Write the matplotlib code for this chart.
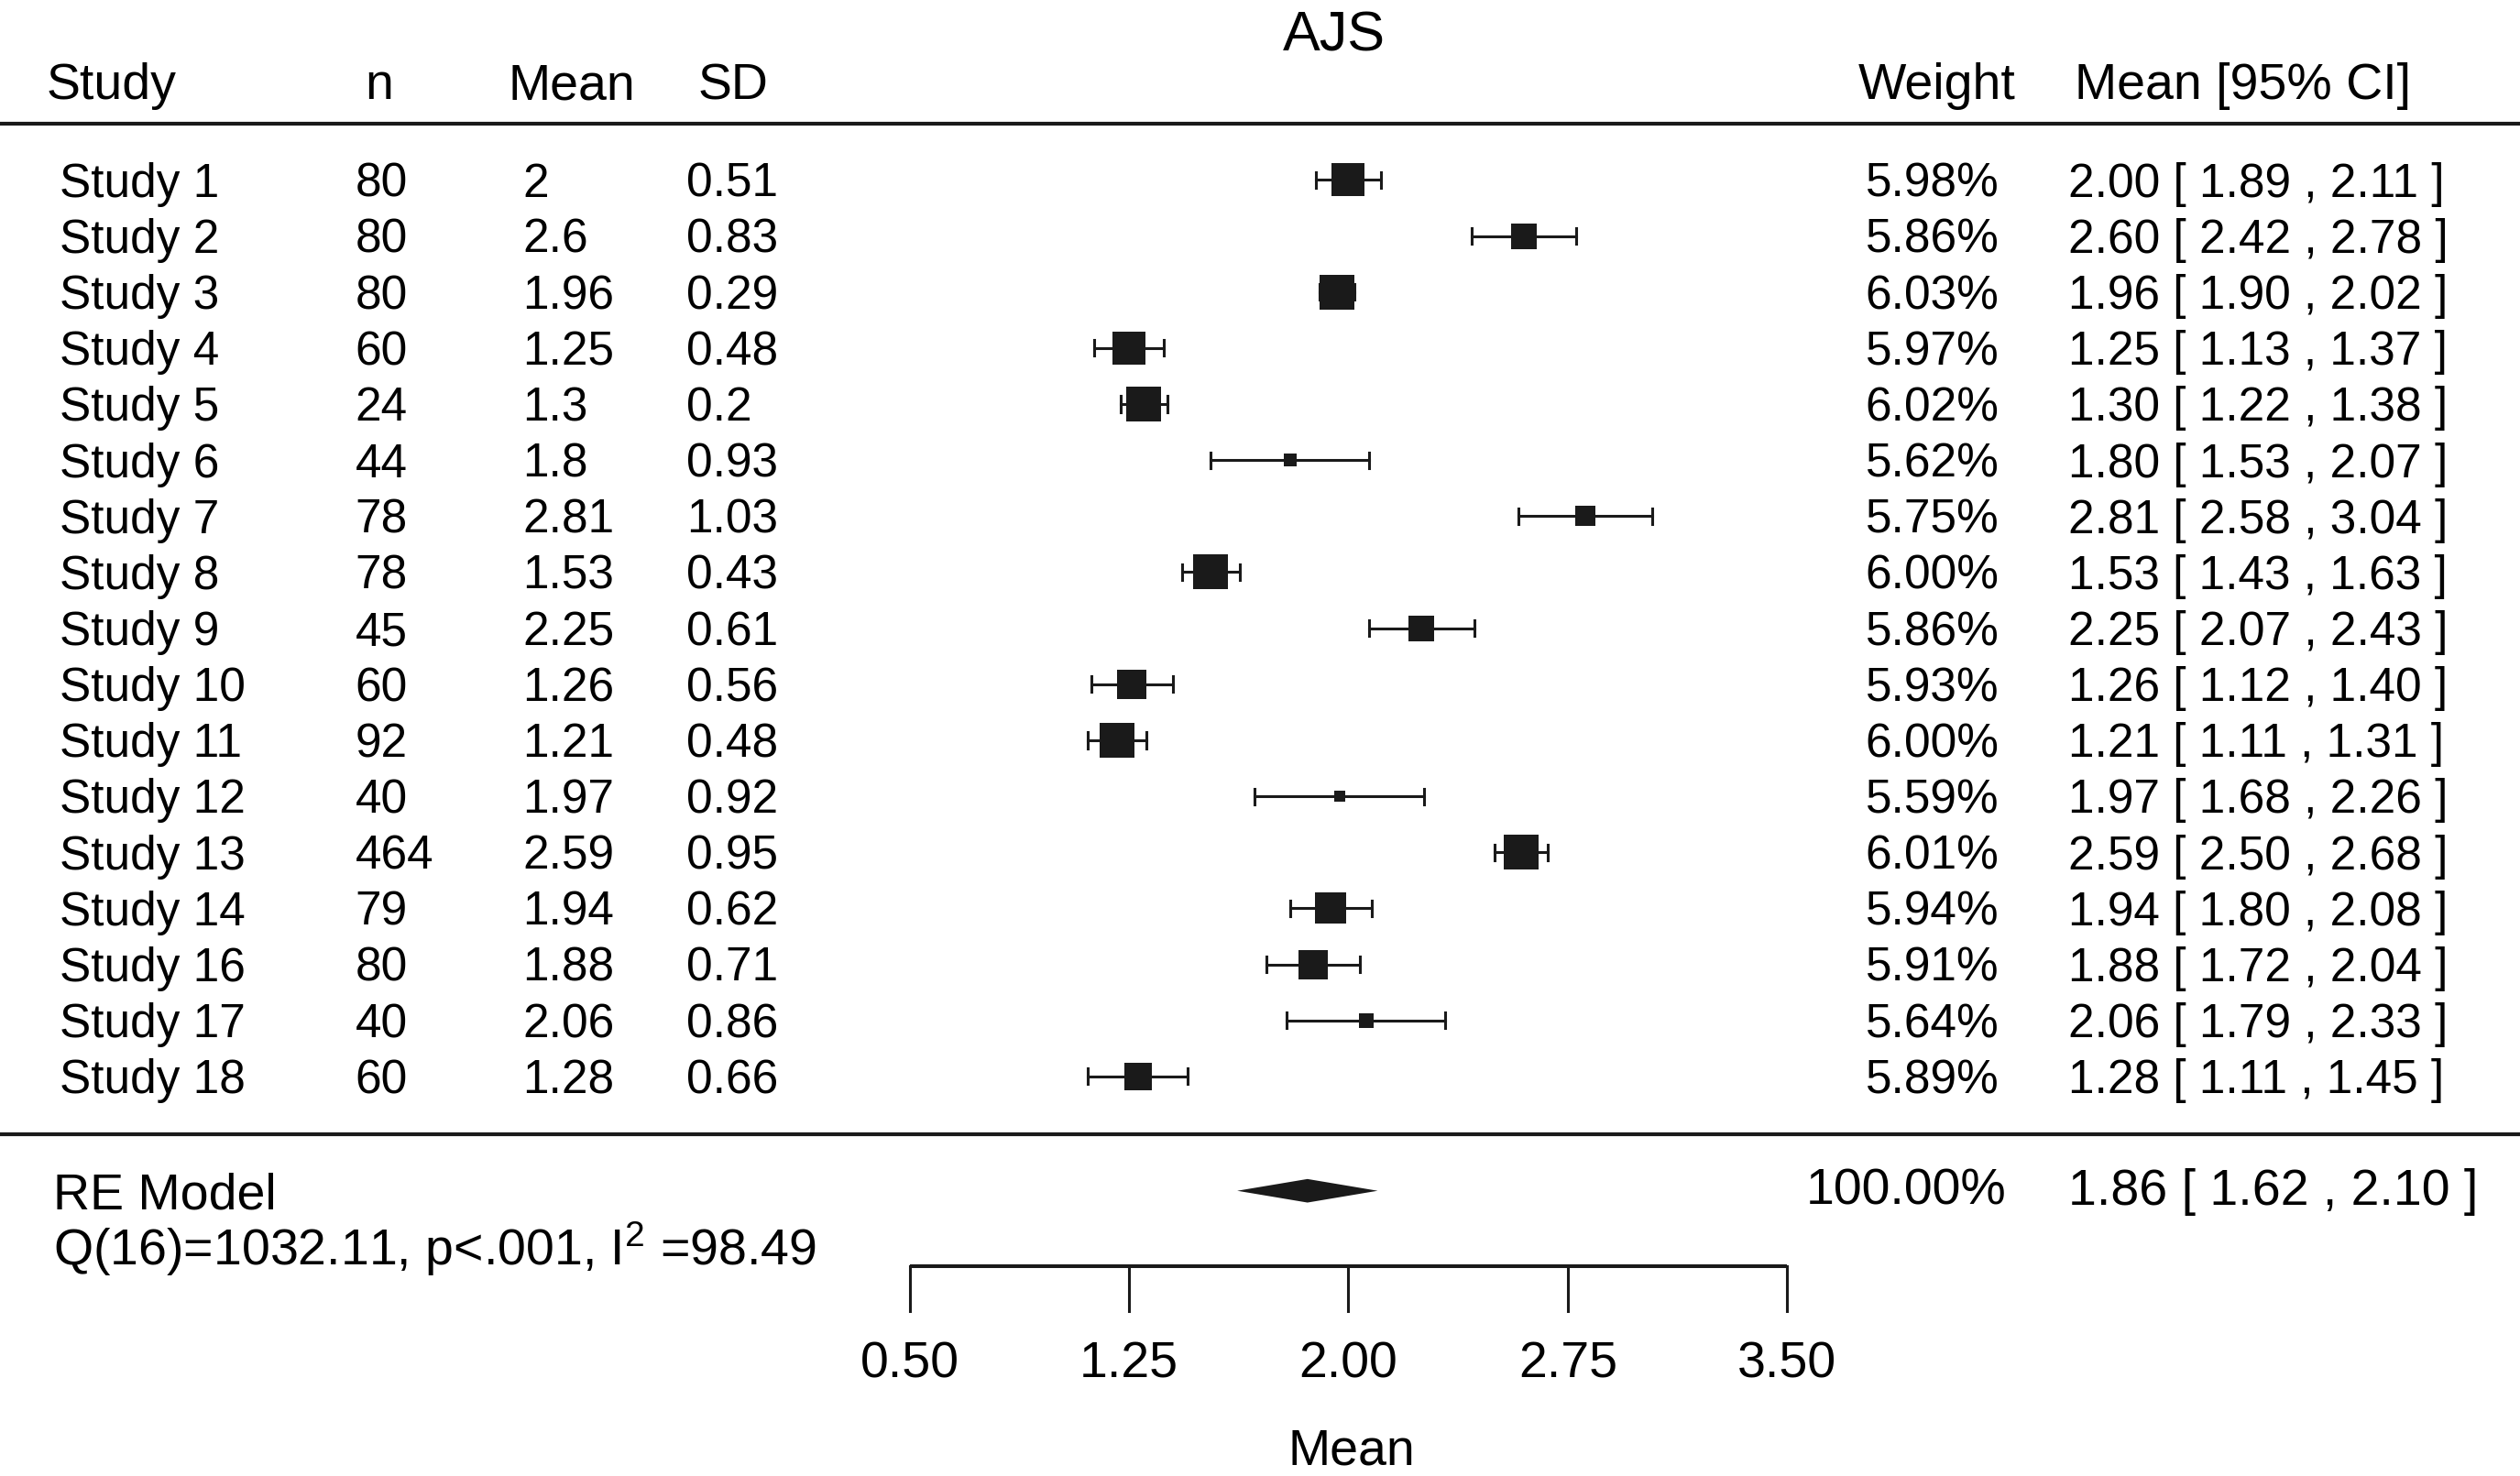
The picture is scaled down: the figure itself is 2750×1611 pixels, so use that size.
import numpy as np
import matplotlib
matplotlib.use('Agg')
import matplotlib.pyplot as plt

plt.rcParams['font.family'] = ['Liberation Sans', 'DejaVu Sans']
plt.rcParams['mathtext.fontset'] = 'custom'
plt.rcParams['mathtext.rm'] = 'Liberation Sans'
plt.rcParams['mathtext.it'] = 'Liberation Sans'

# data
studies = ['Study 1', 'Study 2', 'Study 3', 'Study 4', 'Study 5', 'Study 6',
           'Study 7', 'Study 8', 'Study 9', 'Study 10', 'Study 11', 'Study 12',
           'Study 13', 'Study 14', 'Study 16', 'Study 17', 'Study 18']
n_obs = [80, 80, 80, 60, 24, 44, 78, 78, 45, 60, 92, 40, 464, 79, 80, 40, 60]
means = [2, 2.6, 1.96, 1.25, 1.3, 1.8, 2.81, 1.53, 2.25, 1.26, 1.21, 1.97,
         2.59, 1.94, 1.88, 2.06, 1.28]
sds = [0.51, 0.83, 0.29, 0.48, 0.2, 0.93, 1.03, 0.43, 0.61, 0.56, 0.48, 0.92,
       0.95, 0.62, 0.71, 0.86, 0.66]
weights = [5.98, 5.86, 6.03, 5.97, 6.02, 5.62, 5.75, 6.00, 5.86, 5.93, 6.00,
           5.59, 6.01, 5.94, 5.91, 5.64, 5.89]
ci_lo = [1.89, 2.42, 1.90, 1.13, 1.22, 1.53, 2.58, 1.43, 2.07, 1.12, 1.11,
         1.68, 2.50, 1.80, 1.72, 1.79, 1.11]
ci_hi = [2.11, 2.78, 2.02, 1.37, 1.38, 2.07, 3.04, 1.63, 2.43, 1.40, 1.31,
         2.26, 2.68, 2.08, 2.04, 2.33, 1.45]
re_est, re_lo, re_hi, re_weight = 1.86, 1.62, 2.10, 100.00
het_text = r'Q(16)=1032.11, p<.001, I$^{2}$ =98.49'
x_ticks = [0.50, 1.25, 2.00, 2.75, 3.50]

FS = 37      # study rows
FS_H = 40    # headers, summary, axis
FS_T = 44    # title
LW = 2.2
INK = '#1a1a1a'

fig = plt.figure(figsize=(27.5, 16.11), dpi=100)
ax = fig.add_axes([0, 0, 1, 1])
ax.set_xlim(-2.610, 6.0055)
ax.set_ylim(24.13, -2.211)
ax.axis('off')

rows = np.arange(1, len(studies) + 1)
off = 0.30  # baseline offset so text centres on the row

# header
ax.text(1.951, -1.311, 'AJS', fontsize=FS_T, ha='center', va='baseline')
ax.text(-2.451, -0.445, 'Study', fontsize=FS_H, va='baseline')
ax.text(-1.363, -0.445, 'n', fontsize=FS_H, va='baseline')
ax.text(-0.874, -0.445, 'Mean', fontsize=FS_H, va='baseline')
ax.text(-0.225, -0.445, 'SD', fontsize=FS_H, va='baseline')
ax.text(4.280, -0.445, 'Weight', fontsize=FS_H, ha='right', va='baseline')
ax.text(4.484, -0.445, 'Mean [95% CI]', fontsize=FS_H, va='baseline')
ax.axhline(0.0, color=INK, lw=3)
ax.axhline(18.03, color=INK, lw=3)

# marker size scaled with weight
w = np.array(weights)
msize = 9 + 19 * (w - w.min()) / (w.max() - w.min())

for i, y in enumerate(rows):
    ax.text(-2.407, y + off, studies[i], fontsize=FS, va='baseline')
    ax.text(-1.396, y + off, str(n_obs[i]), fontsize=FS, va='baseline')
    ax.text(-0.824, y + off, f'{means[i]:g}', fontsize=FS, va='baseline')
    ax.text(-0.264, y + off, f'{sds[i]:g}', fontsize=FS, va='baseline')
    ax.text(4.225, y + off, f'{weights[i]:.2f}%', fontsize=FS, ha='right', va='baseline')
    ax.text(4.462, y + off,
            f'{means[i]:.2f} [ {ci_lo[i]:.2f} , {ci_hi[i]:.2f} ]',
            fontsize=FS, va='baseline')
    ax.plot([ci_lo[i], ci_hi[i]], [y, y], color=INK, lw=LW)
    ax.plot([ci_lo[i], ci_lo[i]], [y - 0.14, y + 0.14], color=INK, lw=LW)
    ax.plot([ci_hi[i], ci_hi[i]], [y - 0.14, y + 0.14], color=INK, lw=LW)
    ax.plot(means[i], y, marker='s', markersize=msize[i], color=INK,
            markeredgewidth=0)

# summary
y_re = 19.04
ax.fill([re_lo, re_est, re_hi, re_est], [y_re, y_re - 0.21, y_re, y_re + 0.21],
        color=INK, lw=0)
ax.text(-2.429, 19.36, 'RE Model', fontsize=FS_H, va='baseline')
ax.text(-2.429, 20.37, het_text, fontsize=FS_H, va='baseline')
ax.text(4.250, 19.29, f'{re_weight:.2f}%', fontsize=FS_H, ha='right', va='baseline')
ax.text(4.462, 19.29, f'{re_est:.2f} [ {re_lo:.2f} , {re_hi:.2f} ]',
        fontsize=FS_H, va='baseline')

# x axis
y_ax = 20.38
ax.plot([x_ticks[0], x_ticks[-1]], [y_ax, y_ax], color=INK, lw=2.9,
        solid_capstyle='butt')
for t in x_ticks:
    ax.plot([t, t], [y_ax, 21.19], color=INK, lw=2.2)
    ax.text(t, 22.38, f'{t:.2f}', fontsize=FS_H, ha='center', va='baseline')
ax.text(2.011, 23.92, 'Mean', fontsize=FS_H, ha='center', va='baseline')

fig.savefig('out.png', dpi=100, facecolor='white')
